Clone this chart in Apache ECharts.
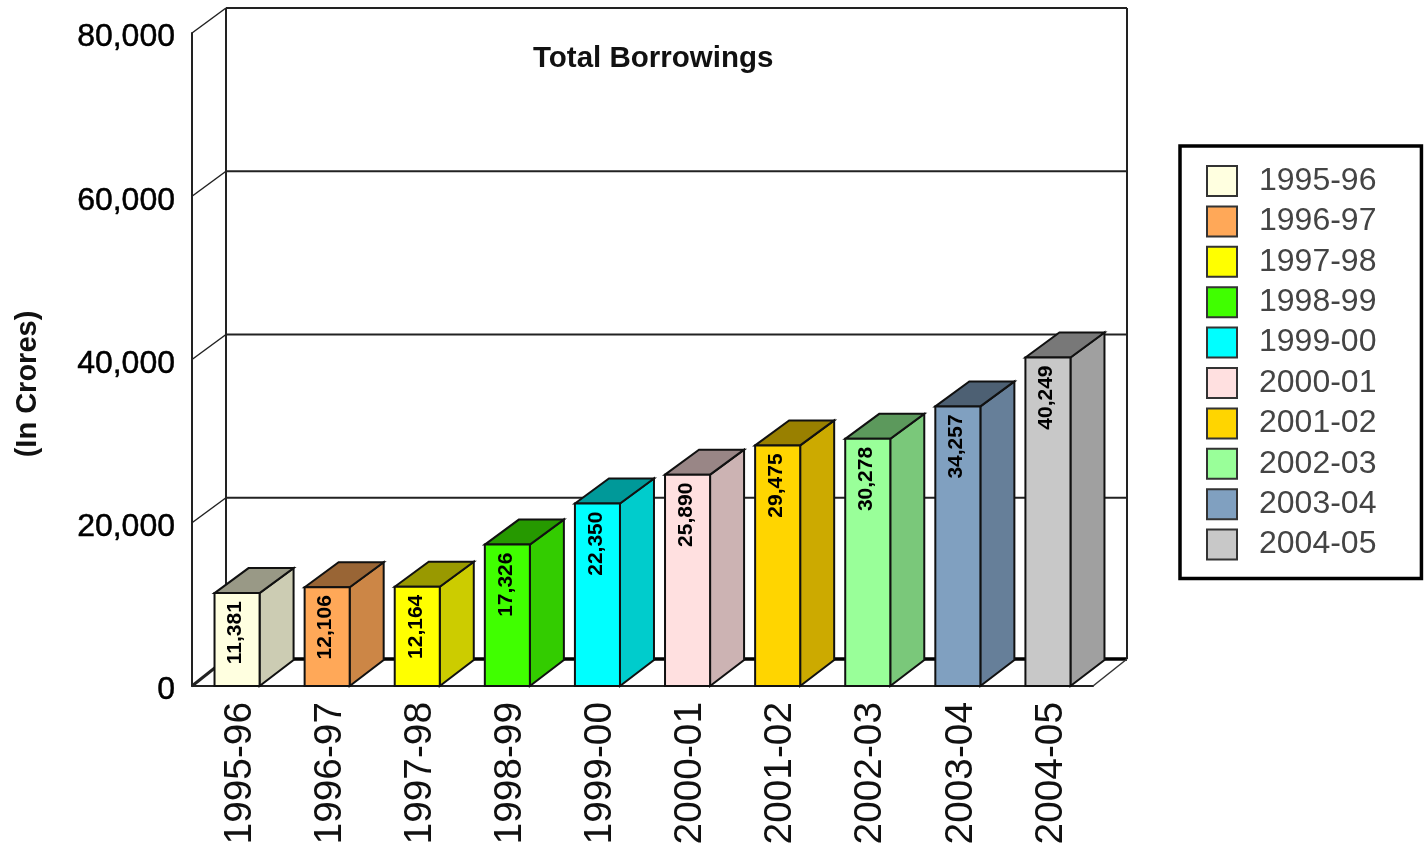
<!DOCTYPE html>
<html>
<head>
<meta charset="utf-8">
<style>html,body{margin:0;padding:0;background:#fff}#c{width:1426px;height:849px}</style>
<script src="https://cdn.jsdelivr.net/npm/echarts@6/dist/echarts.min.js"></script>
</head>
<body>
<div id="c"></div>
<script>
const categories = ['1995-96','1996-97','1997-98','1998-99','1999-00','2000-01','2001-02','2002-03','2003-04','2004-05'];
const values = [11381,12106,12164,17326,22350,25890,29475,30278,34257,40249];
const frontColors = ['#FFFFE0','#FFA858','#FFFF00','#40FF00','#00FFFF','#FFE0E0','#FFD500','#99FF99','#80A0C0','#C8C8C8'];
const sideColors  = ['#CCCCB3','#CC8646','#CCCC00','#33CC00','#00CCCC','#CCB3B3','#CCAA00','#7AC87A','#667F99','#A0A0A0'];
const topColors   = ['#999986','#996535','#999900','#269900','#009999','#998686','#998000','#5C995C','#4D6073','#787878'];
const gridValues = [0,20000,40000,60000,80000];

const DX = 34, DY = 25, FLOOR_DY = 27;
const EDGE = '#111111';
const fmt = new Intl.NumberFormat('en-US');

function renderWall(params, api) {
  const cs = params.coordSys;
  const v = api.value(1);
  const y = api.coord([0, v])[1];
  const x0 = cs.x, x1 = cs.x + cs.width;
  const d = v === 0 ? FLOOR_DY : DY;
  const w = v === 0 ? 3.5 : 2;
  const children = [
    {type:'line', shape:{x1:x0, y1:y, x2:x0+DX, y2:y-d}, style:{stroke:'#222', lineWidth:v===0?3:1.5}},
    {type:'line', shape:{x1:x0+DX, y1:y-d, x2:x1+DX, y2:y-d}, style:{stroke:v===0?'#000':'#222', lineWidth:w}}
  ];
  if (v === 0) {
    children.push({type:'line', shape:{x1:x1, y1:y, x2:x1+DX, y2:y-d}, style:{stroke:'#333', lineWidth:1.5}});
  }
  if (v === 80000) {
    const b = api.coord([0, 0])[1] - FLOOR_DY;
    children.push({type:'line', shape:{x1:x0+DX, y1:y-d, x2:x0+DX, y2:b}, style:{stroke:'#222', lineWidth:2}});
    children.push({type:'line', shape:{x1:x1+DX, y1:y-d, x2:x1+DX, y2:b}, style:{stroke:'#222', lineWidth:2}});
  }
  return {type:'group', children};
}

function makeBar(i) {
  return function (params, api) {
    const idx = api.value(0), val = api.value(1);
    const top = api.coord([idx, val]);
    const base = api.coord([idx, 0]);
    const w = api.size([1, 0])[0] * 0.5;
    const l = top[0] - w / 2, r = top[0] + w / 2;
    const edge = {stroke:EDGE, lineWidth:2, lineJoin:'miter'};
    return {type:'group', children:[
      {type:'polygon', shape:{points:[[r,top[1]],[r+DX,top[1]-DY],[r+DX,base[1]-DY-1],[r,base[1]]]},
        style:Object.assign({fill:sideColors[i]}, edge)},
      {type:'polygon', shape:{points:[[l,top[1]],[l+DX,top[1]-DY],[r+DX,top[1]-DY],[r,top[1]]]},
        style:Object.assign({fill:topColors[i]}, edge)},
      {type:'rect', shape:{x:l, y:top[1], width:r-l, height:base[1]-top[1]},
        style:Object.assign({fill:frontColors[i]}, edge)},
      {type:'text', x:top[0]-1.5, y:top[1]+8, rotation:Math.PI/2,
        style:{text:fmt.format(val), fill:'#000', align:'right', verticalAlign:'middle',
               font:'bold 21px "Liberation Sans", Arial, sans-serif'}}
    ]};
  };
}

const series = [{
  name:'walls', type:'custom', silent:true, z:1,
  data:gridValues.map(v => [0, v]),
  encode:{x:0, y:1},
  renderItem:renderWall
}];
categories.forEach((c, i) => {
  series.push({
    name:c, type:'custom', z:2,
    itemStyle:{color:frontColors[i]},
    data:[[i, values[i]]],
    encode:{x:0, y:1},
    renderItem:makeBar(i)
  });
});

const chart = echarts.init(document.getElementById('c'), null, {renderer:'canvas'});
chart.setOption({
  animation:false,
  backgroundColor:'#fff',
  textStyle:{fontFamily:'"Liberation Sans", Arial, sans-serif'},
  title:{
    text:'Total Borrowings', left:528, top:39,
    textStyle:{fontSize:29.5, fontWeight:'bold', color:'#111', fontFamily:'"Liberation Sans", Arial, sans-serif'}
  },
  grid:{left:192, top:33, width:901, height:653, containLabel:false},
  xAxis:{
    type:'category', data:categories,
    axisLine:{show:true, lineStyle:{color:'#222', width:2}},
    axisTick:{show:false}, splitLine:{show:false},
    axisLabel:{rotate:90, margin:16, fontSize:38.8, color:'#111', interval:0, verticalAlign:'top', lineHeight:6}
  },
  yAxis:{
    type:'value', min:0, max:80000, interval:20000,
    name:'(In Crores)', nameLocation:'middle', nameGap:150, nameRotate:90,
    nameTextStyle:{fontSize:29, fontWeight:'bold', color:'#111', padding:[0,49,0,0]},
    axisLine:{show:true, lineStyle:{color:'#222', width:2}},
    axisTick:{show:false}, splitLine:{show:false},
    axisLabel:{margin:17, fontSize:32, color:'#000', textBorderColor:'#000', textBorderWidth:0.5,
      verticalAlign:'top', lineHeight:9, formatter:v => fmt.format(v)}
  },
  legend:{
    data:categories, orient:'vertical', left:1180, top:146,
    icon:'rect', itemWidth:30, itemHeight:30, itemGap:8.4,
    padding:[19,45,18,26], backgroundColor:'#fff', borderColor:'#000', borderWidth:3.5,
    itemStyle:{borderColor:'#333', borderWidth:2},
    textStyle:{fontSize:32, color:'#444', padding:[0,0,0,17], lineHeight:30}
  },
  series
});
</script>
</body>
</html>
